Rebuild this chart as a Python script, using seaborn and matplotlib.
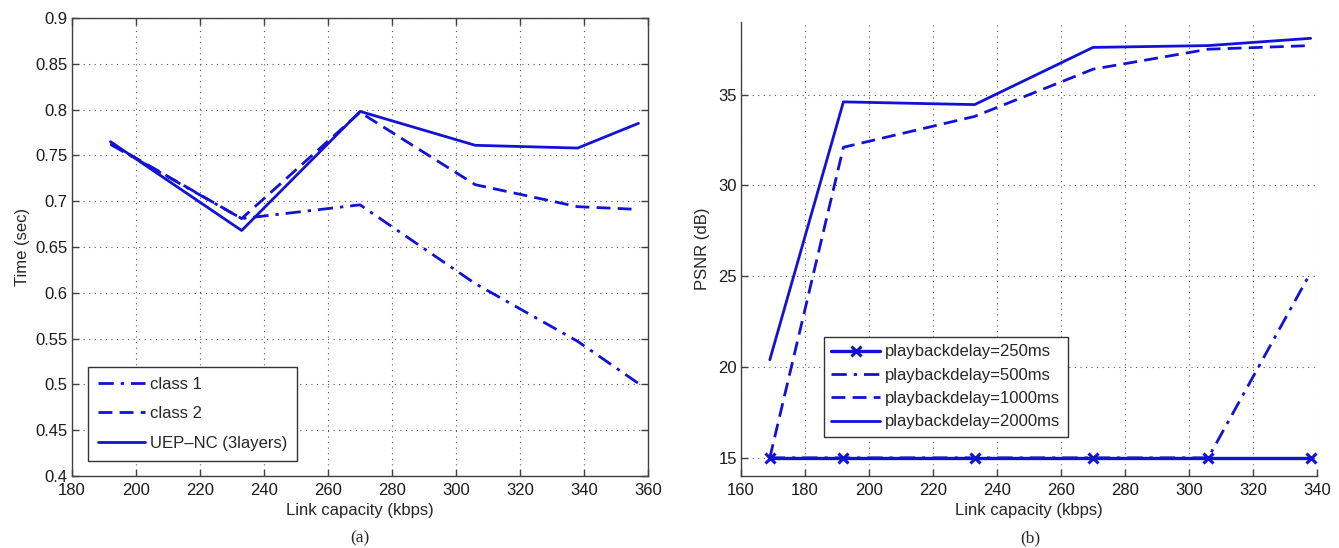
import numpy as np
import pandas as pd
import matplotlib
matplotlib.use("Agg")
import matplotlib.pyplot as plt
import seaborn as sns

# (a) completion time per class vs link capacity
cap_a = [192, 233, 270, 306, 338, 357]
time_class1 = [0.762, 0.681, 0.696, 0.610, 0.547, 0.501]
time_class2 = [0.763, 0.681, 0.797, 0.718, 0.694, 0.691]
time_uep = [0.765, 0.668, 0.798, 0.761, 0.758, 0.785]
labels_a = ["class 1", "class 2", "UEP\u2013NC (3layers)"]

# (b) PSNR vs link capacity for several playback delays
cap_b = [169, 192, 233, 270, 306, 338]
psnr_250 = [15, 15, 15, 15, 15, 15]
psnr_500 = [15, 15, 15, 15, 15, 25.2]
psnr_1000 = [15, 32.1, 33.8, 36.4, 37.5, 37.7]
psnr_2000 = [20.4, 34.6, 34.45, 37.6, 37.7, 38.1]
labels_b = ["playbackdelay=250ms", "playbackdelay=500ms",
            "playbackdelay=1000ms", "playbackdelay=2000ms"]

sns.set_style("ticks")
plt.rcParams["font.family"] = ["Liberation Sans", "DejaVu Sans"]
FS = 12

BLUE = "#1212d6"
LW = 2.0
DASH = (0, (5, 2.6))
DASHDOT = (0, (5.5, 2.5, 1.2, 2.5))

fig = plt.figure(figsize=(13.39, 5.48), dpi=100)
ax_a = fig.add_axes([0.0538, 0.1314, 0.4302, 0.8358])
ax_b = fig.add_axes([0.5534, 0.1314, 0.4302, 0.8285])


def style_axes(ax, box):
    ax.grid(True, which="major", color="0.35", linestyle=(0, (1, 4)), linewidth=0.8)
    ax.set_axisbelow(True)
    for s in ["left", "bottom", "top", "right"]:
        ax.spines[s].set_color("0.25")
        ax.spines[s].set_linewidth(1.0)
    if not box:
        ax.spines["top"].set_visible(False)
        ax.spines["right"].set_visible(False)
    ax.tick_params(direction="in", length=5, width=1.0, color="0.25",
                   labelsize=FS, labelcolor="0.1",
                   top=box, right=box)
    ax.tick_params(axis="x", pad=5)
    ax.tick_params(axis="y", pad=3)


# ---- panel (a)
series_a = [time_class1, time_class2, time_uep]
styles_a = [DASHDOT, DASH, "-"]
for vals, ls, lab in zip(series_a, styles_a, labels_a):
    sns.lineplot(x=cap_a, y=vals, ax=ax_a, color=BLUE, linestyle=ls,
                 linewidth=LW, label=lab, estimator=None, sort=False)
ax_a.set_xlim(180, 360)
ax_a.set_ylim(0.4, 0.9)
ax_a.set_xticks(np.arange(180, 361, 20))
ax_a.set_yticks(np.arange(0.4, 0.901, 0.05))
ax_a.set_yticklabels(["0.4", "0.45", "0.5", "0.55", "0.6", "0.65",
                      "0.7", "0.75", "0.8", "0.85", "0.9"])
style_axes(ax_a, box=True)
ax_a.set_xlabel("Link capacity (kbps)", fontsize=FS, labelpad=4)
ax_a.set_ylabel("Time (sec)", fontsize=FS, labelpad=4)
leg_a = ax_a.legend(loc="lower left", bbox_to_anchor=(0.028, 0.033),
                    frameon=True, fancybox=False, edgecolor="0.2",
                    framealpha=1, fontsize=FS, handlelength=2.8,
                    handletextpad=0.3, labelspacing=0.88,
                    borderpad=0.6, borderaxespad=0)
leg_a.get_frame().set_linewidth(1.0)

# ---- panel (b)
series_b = [psnr_250, psnr_500, psnr_1000, psnr_2000]
styles_b = ["-", DASHDOT, DASH, "-"]
markers_b = ["x", None, None, None]
widths_b = [2.4, LW, LW, LW]
for vals, ls, mk, lw, lab in zip(series_b, styles_b, markers_b, widths_b, labels_b):
    sns.lineplot(x=cap_b, y=vals, ax=ax_b, color=BLUE, linestyle=ls,
                 linewidth=lw, marker=mk, markersize=7, markeredgewidth=2.2,
                 markeredgecolor=BLUE, label=lab, estimator=None, sort=False)
# keep the 250 ms baseline (with markers) above the curves that share y=15
ax_b.lines[0].set_zorder(5)
ax_b.set_xlim(160, 340)
ax_b.set_ylim(14, 39)
ax_b.set_xticks(np.arange(160, 341, 20))
ax_b.set_yticks([15, 20, 25, 30, 35])
style_axes(ax_b, box=False)
ax_b.set_xlabel("Link capacity (kbps)", fontsize=FS, labelpad=4)
ax_b.set_ylabel("PSNR (dB)", fontsize=FS, labelpad=6)
leg_b = ax_b.legend(loc="lower left", bbox_to_anchor=(0.144, 0.086),
                    frameon=True, fancybox=False, edgecolor="0.2",
                    framealpha=1, fontsize=FS, handlelength=2.9,
                    handletextpad=0.3, labelspacing=0.5,
                    borderpad=0.45, borderaxespad=0)
leg_b.get_frame().set_linewidth(1.0)

# sub-figure captions
fig.text(0.2689, 0.018, "(a)", ha="center", va="center",
         family=["Liberation Serif", "DejaVu Serif"], fontsize=12.5)
fig.text(0.7692, 0.018, "(b)", ha="center", va="center",
         family=["Liberation Serif", "DejaVu Serif"], fontsize=12.5)

fig.savefig("out.png", dpi=100)
